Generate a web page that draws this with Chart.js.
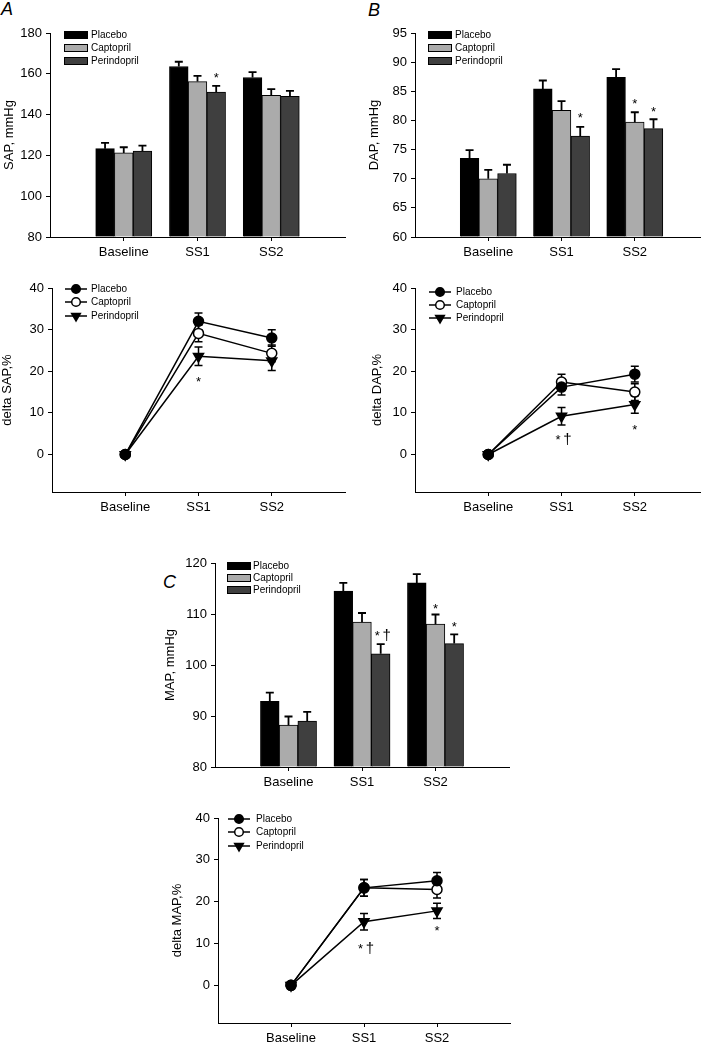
<!DOCTYPE html>
<html><head><meta charset="utf-8">
<script src="https://cdn.jsdelivr.net/npm/chart.js@4.4.0/dist/chart.umd.min.js"></script>
<style>
html,body{margin:0;padding:0;background:#fff}
body{width:710px;height:1047px;position:relative;overflow:hidden;font-family:"Liberation Sans",Arial,Helvetica,sans-serif}
canvas{position:absolute}
.lbl{position:absolute;font-style:italic;font-size:18px;line-height:18px;color:#000}
</style></head><body>
<div class="lbl" style="left:1px;top:0px">A</div>
<div class="lbl" style="left:368px;top:1px">B</div>
<div class="lbl" style="left:163px;top:573px">C</div>
<script>
// ---------- DATA ----------
const categories = ['Baseline', 'SS1', 'SS2'];
const seriesNames = ['Placebo', 'Captopril', 'Perindopril'];

// Panel A (bars): SAP, mmHg
const sapTicks = [80, 100, 120, 140, 160, 180];
const sapPlacebo = [123.3, 163.6, 158.2];
const sapPlaceboErr = [2.8, 2.3, 2.6];
const sapCaptopril = [121.2, 156.2, 149.5];
const sapCaptoprilErr = [2.8, 2.8, 3.0];
const sapPerindopril = [122.1, 151.1, 149.0];
const sapPerindoprilErr = [2.7, 3.0, 2.6];

// Panel B (bars): DAP, mmHg
const dapTicks = [60, 65, 70, 75, 80, 85, 90, 95];
const dapPlacebo = [73.5, 85.4, 87.4];
const dapPlaceboErr = [1.4, 1.45, 1.4];
const dapCaptopril = [70.0, 81.75, 79.7];
const dapCaptoprilErr = [1.5, 1.55, 1.7];
const dapPerindopril = [70.9, 77.3, 78.6];
const dapPerindoprilErr = [1.5, 1.6, 1.6];

// Panel C (bars): MAP, mmHg
const mapTicks = [80, 90, 100, 110, 120];
const mapPlacebo = [92.9, 114.5, 116.1];
const mapPlaceboErr = [1.7, 1.6, 1.7];
const mapCaptopril = [88.2, 108.4, 108.0];
const mapCaptoprilErr = [1.7, 1.8, 1.9];
const mapPerindopril = [89.0, 102.2, 104.2];
const mapPerindoprilErr = [1.8, 1.9, 1.8];

// delta % panels (lines)
const deltaTicks = [0, 10, 20, 30, 40];
const dSapPlacebo = [0, 32.0, 28.0];
const dSapPlaceboErr = [0, 2.0, 2.0];
const dSapCaptopril = [0, 29.1, 24.3];
const dSapCaptoprilErr = [0, 2.0, 2.0];
const dSapPerindopril = [0, 23.6, 22.5];
const dSapPerindoprilErr = [0, 2.2, 2.3];

const dDapPlacebo = [0, 16.2, 19.3];
const dDapPlaceboErr = [0, 1.9, 1.9];
const dDapCaptopril = [0, 17.4, 15.0];
const dDapCaptoprilErr = [0, 1.9, 2.0];
const dDapPerindopril = [0, 9.2, 12.0];
const dDapPerindoprilErr = [0, 2.1, 2.1];

const dMapPlacebo = [0, 23.3, 25.0];
const dMapPlaceboErr = [0, 2.0, 2.0];
const dMapCaptopril = [0, 23.3, 22.9];
const dMapCaptoprilErr = [0, 2.0, 2.0];
const dMapPerindopril = [0, 15.2, 17.8];
const dMapPerindoprilErr = [0, 2.0, 1.8];

// significance marks: series index, category index, text
const sapMarks = [[2, 1, '*']];
const dapMarks = [[2, 1, '*'], [1, 2, '*'], [2, 2, '*']];
const mapMarks = [[2, 1, '*†'], [1, 2, '*'], [2, 2, '*']];
const dSapMarks = [[2, 1, '*']];
const dDapMarks = [[2, 1, '*†'], [2, 2, '*']];
const dMapMarks = [[2, 1, '*†'], [2, 2, '*']];

// ---------- STYLE / LAYOUT ----------
const FONT = '"Liberation Sans", Arial, Helvetica, sans-serif';
Chart.defaults.font.family = FONT;
Chart.defaults.font.size = 13;
Chart.defaults.color = '#000';
Chart.defaults.animation = false;

const BAR_FILL = ['#000000', '#ababab', '#3f3f3f'];

function pts(vals) { return vals.map((v, i) => ({ x: i + 1, y: v })); }

function drawMarker(ctx, style, x, y, r) {
  ctx.save();
  ctx.lineWidth = 1.5;
  ctx.strokeStyle = '#000';
  ctx.beginPath();
  if (style === 'tri') {
    ctx.moveTo(x, y + r);
    ctx.lineTo(x - r * 0.866, y - r * 0.5);
    ctx.lineTo(x + r * 0.866, y - r * 0.5);
    ctx.closePath();
    ctx.fillStyle = '#000';
  } else {
    ctx.arc(x, y, r, 0, Math.PI * 2);
    ctx.fillStyle = style === 'open' ? '#fff' : '#000';
  }
  ctx.fill();
  ctx.stroke();
  ctx.restore();
}

function drawMarks(ctx, x, yBase, text) {
  ctx.save();
  ctx.fillStyle = '#000';
  ctx.textAlign = 'center';
  ctx.textBaseline = 'alphabetic';
  if (text === '*†') {
    ctx.font = '13px ' + FONT;
    ctx.fillText('*', x - 3.5, yBase);
    ctx.font = '15px ' + FONT;
    ctx.fillText('†', x + 6, yBase);
  } else {
    ctx.font = '13px ' + FONT;
    ctx.fillText(text, x, yBase);
  }
  ctx.restore();
}

const errPlugin = {
  id: 'errBars',
  beforeDatasetsDraw(chart, args, opts) {
    if (opts.kind === 'line') drawErr(chart, opts);
  },
  afterDatasetsDraw(chart, args, opts) {
    if (opts.kind === 'bar') drawErr(chart, opts);
    const ctx = chart.ctx, ys = chart.scales.y;
    (opts.marks || []).forEach((m, k) => {
      const [si, ci, text] = m;
      const ds = chart.data.datasets[si];
      const el = chart.getDatasetMeta(si).data[ci];
      const v = ds.data[ci].y, e = ds.errors[ci];
      const gap = opts.gaps[k];
      let yc;
      if (opts.kind === 'bar') yc = ys.getPixelForValue(v + e) - gap;
      else yc = ys.getPixelForValue(v - e) + gap;
      drawMarks(ctx, el.x, yc + 7.5, text);
    });
  },
  afterDraw(chart, args, opts) {
    const ctx = chart.ctx, ca = chart.chartArea, L = opts.legend;
    ctx.save();
    ctx.font = '10px ' + FONT;
    ctx.textBaseline = 'middle';
    ctx.textAlign = 'left';
    chart.data.datasets.forEach((ds, i) => {
      const y = Math.round(ca.top + L.dy + i * L.step);
      const x = ca.left + L.dx;
      if (opts.kind === 'bar') {
        ctx.fillStyle = ds.backgroundColor;
        ctx.fillRect(x, y - 4, 24, 8);
        ctx.strokeStyle = '#000';
        ctx.lineWidth = 1;
        ctx.strokeRect(x + 0.5, y - 3.5, 23, 7);
      } else {
        ctx.strokeStyle = '#000';
        ctx.lineWidth = 1.5;
        ctx.beginPath();
        ctx.moveTo(x, y);
        ctx.lineTo(x + 22, y);
        ctx.stroke();
        drawMarker(ctx, ds.mk, x + 11, y, ds.mk === 'tri' ? 5 : 4.3);
      }
      ctx.fillStyle = '#000';
      ctx.fillText(ds.label, ca.left + L.tx, y);
    });
    ctx.restore();
  }
};

function drawErr(chart, opts) {
  const ctx = chart.ctx, ys = chart.scales.y;
  ctx.save();
  ctx.strokeStyle = '#000';
  ctx.lineWidth = opts.kind === 'bar' ? 1.8 : 1.5;
  chart.data.datasets.forEach((ds, i) => {
    const meta = chart.getDatasetMeta(i);
    meta.data.forEach((el, j) => {
      const e = ds.errors[j];
      if (!e) return;
      const v = ds.data[j].y;
      const top = ys.getPixelForValue(v + e);
      const bot = opts.kind === 'bar' ? el.y : ys.getPixelForValue(v - e);
      ctx.beginPath();
      ctx.moveTo(el.x, bot); ctx.lineTo(el.x, top);
      ctx.moveTo(el.x - 4, top); ctx.lineTo(el.x + 4, top);
      if (opts.kind === 'line') { ctx.moveTo(el.x - 4, bot); ctx.lineTo(el.x + 4, bot); }
      ctx.stroke();
    });
  });
  ctx.restore();
}

function makePanel(cfg) {
  const L = 54, T = 20, R = 8, B = 32;
  const a = cfg.area;
  const w = a.r - a.l + L + R, h = a.b - a.t + T + B;
  const cv = document.createElement('canvas');
  cv.width = w; cv.height = h;
  cv.style.left = (a.l - L) + 'px';
  cv.style.top = (a.t - T) + 'px';
  cv.style.width = w + 'px';
  cv.style.height = h + 'px';
  document.body.appendChild(cv);

  let datasets;
  if (cfg.kind === 'bar') {
    datasets = cfg.series.map((s, i) => ({
      label: seriesNames[i],
      data: pts(s),
      errors: cfg.errs[i],
      backgroundColor: BAR_FILL[i],
      borderColor: '#000',
      borderWidth: 1,
      borderSkipped: 'bottom',
      barThickness: 18.7,
      base: cfg.yMin
    }));
  } else {
    const mk = ['filled', 'open', 'tri'];
    datasets = cfg.series.map((s, i) => ({
      label: seriesNames[i],
      data: pts(s),
      errors: cfg.errs[i],
      mk: mk[i],
      borderColor: '#000',
      borderWidth: 1.5,
      pointStyle: i === 2 ? 'triangle' : 'circle',
      pointRotation: i === 2 ? 180 : 0,
      pointRadius: i === 2 ? 5.8 : 5,
      pointBackgroundColor: i === 1 ? '#fff' : '#000',
      pointBorderColor: '#000',
      pointBorderWidth: 1.5,
      tension: 0,
      fill: false,
      clip: false
    }));
  }

  new Chart(cv, {
    type: cfg.kind,
    data: { datasets },
    plugins: [errPlugin],
    options: {
      responsive: false,
      devicePixelRatio: 1,
      animation: false,
      layout: { padding: { left: 0, top: T, right: R, bottom: 0 } },
      plugins: {
        legend: { display: false },
        tooltip: { enabled: false },
        errBars: { kind: cfg.kind, marks: cfg.marks, gaps: cfg.gaps, legend: cfg.legend }
      },
      scales: {
        x: {
          type: 'linear',
          min: 0,
          max: cfg.xMax,
          offset: false,
          afterBuildTicks: s => { s.ticks = categories.map((c, i) => ({ value: i + 1 })); },
          afterFit: s => { s.height = B; },
          ticks: { callback: v => categories[v - 1], padding: 4, maxRotation: 0, autoSkip: false, font: { size: 13 } },
          grid: { display: true, drawOnChartArea: false, drawTicks: true, tickLength: 4, color: '#000', offset: false },
          border: { display: true, color: '#000', width: 1 }
        },
        y: {
          type: 'linear',
          min: cfg.yMin,
          max: cfg.yMax,
          afterBuildTicks: s => { s.ticks = cfg.yTicks.map(v => ({ value: v })); },
          afterFit: s => { s.width = L; },
          ticks: { padding: 4, font: { size: 13 } },
          grid: { display: true, drawOnChartArea: false, drawTicks: true, tickLength: 4, color: '#000' },
          border: { display: true, color: '#000', width: 1 },
          title: { display: true, text: cfg.yTitle, font: { size: 13 }, padding: { top: cfg.titlePad, bottom: 0 } }
        }
      }
    }
  });
}

// A bar
makePanel({
  kind: 'bar', area: { l: 50, t: 33, r: 345, b: 237 }, xMax: 4,
  yMin: 80, yMax: 180, yTicks: sapTicks, yTitle: 'SAP, mmHg', titlePad: 6,
  series: [sapPlacebo, sapCaptopril, sapPerindopril],
  errs: [sapPlaceboErr, sapCaptoprilErr, sapPerindoprilErr],
  marks: sapMarks, gaps: [11],
  legend: { dx: 14, dy: 1.5, step: 13, tx: 41 }
});
// B bar
makePanel({
  kind: 'bar', area: { l: 415, t: 33, r: 700, b: 237 }, xMax: 3.89,
  yMin: 60, yMax: 95, yTicks: dapTicks, yTitle: 'DAP, mmHg', titlePad: 6,
  series: [dapPlacebo, dapCaptopril, dapPerindopril],
  errs: [dapPlaceboErr, dapCaptoprilErr, dapPerindoprilErr],
  marks: dapMarks, gaps: [12.5, 12, 10.5],
  legend: { dx: 13, dy: 1.5, step: 13.3, tx: 40 }
});
// A line
makePanel({
  kind: 'line', area: { l: 52, t: 288, r: 345, b: 492 }, xMax: 4,
  yMin: -9, yMax: 40, yTicks: deltaTicks, yTitle: 'delta SAP,%', titlePad: 2,
  series: [dSapPlacebo, dSapCaptopril, dSapPerindopril],
  errs: [dSapPlaceboErr, dSapCaptoprilErr, dSapPerindoprilErr],
  marks: dSapMarks, gaps: [13],
  legend: { dx: 13, dy: 1, step: 13.3, tx: 39 }
});
// B line
makePanel({
  kind: 'line', area: { l: 415, t: 288, r: 700, b: 492 }, xMax: 3.89,
  yMin: -9, yMax: 40, yTicks: deltaTicks, yTitle: 'delta DAP,%', titlePad: 8.7,
  series: [dDapPlacebo, dDapCaptopril, dDapPerindopril],
  errs: [dDapPlaceboErr, dDapCaptoprilErr, dDapPerindoprilErr],
  marks: dDapMarks, gaps: [12, 13],
  legend: { dx: 14, dy: 4.4, step: 12.8, tx: 41 }
});
// C bar
makePanel({
  kind: 'bar', area: { l: 215, t: 563, r: 509, b: 767 }, xMax: 4,
  yMin: 80, yMax: 120, yTicks: mapTicks, yTitle: 'MAP, mmHg', titlePad: 1.2,
  series: [mapPlacebo, mapCaptopril, mapPerindopril],
  errs: [mapPlaceboErr, mapCaptoprilErr, mapPerindoprilErr],
  marks: mapMarks, gaps: [12, 9, 11],
  legend: { dx: 12, dy: 3, step: 12.2, tx: 38 }
});
// C line
makePanel({
  kind: 'line', area: { l: 218, t: 818, r: 510, b: 1023 }, xMax: 4,
  yMin: -9, yMax: 40, yTicks: deltaTicks, yTitle: 'delta MAP,%', titlePad: 6,
  series: [dMapPlacebo, dMapCaptopril, dMapPerindopril],
  errs: [dMapPlaceboErr, dMapCaptoprilErr, dMapPerindoprilErr],
  marks: dMapMarks, gaps: [15.5, 9],
  legend: { dx: 10, dy: 1, step: 13.3, tx: 38 }
});
</script>
</body></html>
